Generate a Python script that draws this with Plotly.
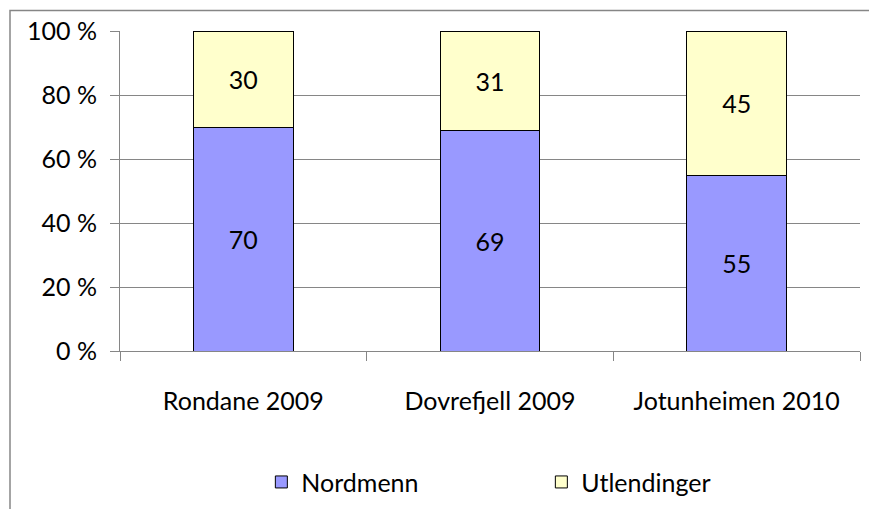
import plotly.graph_objects as go

categories = ["Rondane 2009", "Dovrefjell 2009", "Jotunheimen 2010"]
nordmenn = [70, 69, 55]
utlendinger = [30, 31, 45]
y_ticks = [0, 20, 40, 60, 80, 100]
y_tick_labels = ["0 %", "20 %", "40 %", "60 %", "80 %", "100 %"]

FONT = "Lato"
FS = 25
fig = go.Figure()
fig.add_trace(go.Bar(
    x=categories, y=nordmenn, name="Nordmenn",
    marker=dict(color="#9999FF", line=dict(color="#000000", width=1)),
    text=[str(v) for v in nordmenn], textposition="inside", insidetextanchor="middle",
    textfont=dict(family=FONT, size=FS, color="#000000"),
))
fig.add_trace(go.Bar(
    x=categories, y=utlendinger, name="Utlendinger",
    marker=dict(color="#FFFFCC", line=dict(color="#000000", width=1)),
    text=[str(v) for v in utlendinger], textposition="inside", insidetextanchor="middle",
    textfont=dict(family=FONT, size=FS, color="#000000"),
))

# page body has an 8px margin; compensate so the plot area lands where the reference has it
L, T = 112, 23
fig.update_layout(
    barmode="stack", bargap=0.595,
    width=877, height=509,
    margin=dict(l=L, r=877 - L - 740, t=T, b=509 - T - 320, autoexpand=False),
    paper_bgcolor="white", plot_bgcolor="white",
    font=dict(family=FONT, size=FS, color="#000000"),
    showlegend=True,
    legend=dict(orientation="h", x=0.5694, xanchor="center", y=-0.41, yanchor="middle",
                font=dict(family=FONT, size=FS, color="#000000"),
                entrywidth=235, traceorder="normal"),
    xaxis=dict(showline=True, linecolor="#868686", linewidth=1, automargin=False,
               ticks="outside", ticklen=9, tickcolor="#868686", tickson="boundaries",
               ticklabelstandoff=28, showgrid=False),
    yaxis=dict(range=[0, 100], tickvals=y_ticks, ticktext=y_tick_labels, automargin=False,
               showline=True, linecolor="#868686", linewidth=1,
               ticks="outside", ticklen=9, tickcolor="#868686", ticklabelstandoff=8,
               showgrid=True, gridcolor="#868686", gridwidth=1, zeroline=False),
    shapes=[dict(type="rect", xref="paper", yref="paper",
                 x0=(2 - L) / 740, x1=1.2, y0=-0.8, y1=1 + (T - 2.5) / 320,
                 line=dict(color="#868686", width=1.5), fillcolor="rgba(0,0,0,0)", layer="below")],
)

fig.write_html("out.html")
